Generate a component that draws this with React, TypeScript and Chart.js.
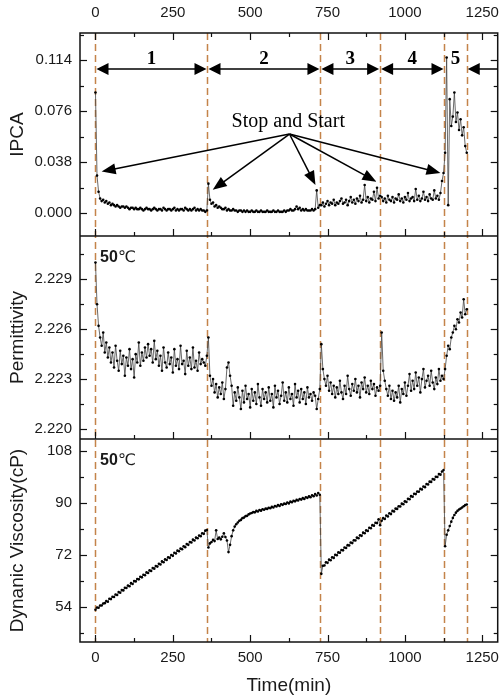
import { useEffect, useRef } from 'react';
import { Chart, registerables } from 'chart.js';

Chart.register(...registerables);

// ---------------- data ----------------
const TIME = [
  0, 5, 10, 15, 20, 25, 30, 35, 40, 45, 50, 55, 60, 65, 70, 75, 80, 85, 90, 95,
  100, 105, 110, 115, 120, 125, 130, 135, 140, 145, 150, 155, 160, 165, 170, 175, 180, 185, 190, 195,
  200, 205, 210, 215, 220, 225, 230, 235, 240, 245, 250, 255, 260, 265, 270, 275, 280, 285, 290, 295,
  300, 305, 310, 315, 320, 325, 330, 335, 340, 345, 350, 355, 360, 365, 370, 375, 380, 385, 390, 395,
  400, 405, 410, 415, 420, 425, 430, 435, 440, 445, 450, 455, 460, 465, 470, 475, 480, 485, 490, 495,
  500, 505, 510, 515, 520, 525, 530, 535, 540, 545, 550, 555, 560, 565, 570, 575, 580, 585, 590, 595,
  600, 605, 610, 615, 620, 625, 630, 635, 640, 645, 650, 655, 660, 665, 670, 675, 680, 685, 690, 695,
  700, 705, 710, 715, 720, 725, 730, 735, 740, 745, 750, 755, 760, 765, 770, 775, 780, 785, 790, 795,
  800, 805, 810, 815, 820, 825, 830, 835, 840, 845, 850, 855, 860, 865, 870, 875, 880, 885, 890, 895,
  900, 905, 910, 915, 920, 925, 930, 935, 940, 945, 950, 955, 960, 965, 970, 975, 980, 985, 990, 995,
  1000, 1005, 1010, 1015, 1020, 1025, 1030, 1035, 1040, 1045, 1050, 1055, 1060, 1065, 1070, 1075, 1080, 1085, 1090, 1095,
  1100, 1105, 1110, 1115, 1120, 1125, 1130, 1135, 1140, 1145, 1150, 1155, 1160, 1165, 1170, 1175, 1180, 1185, 1190, 1195,
  1200,
];

const IPCA = [
  // 0-360
  0.090, 0.028, 0.016, 0.011, 0.009, 0.010, 0.008, 0.009, 0.007, 0.008,
  0.006, 0.007, 0.006, 0.005, 0.006, 0.005, 0.004, 0.005, 0.005, 0.004,
  0.005, 0.004, 0.003, 0.004, 0.004, 0.003, 0.004, 0.003, 0.003, 0.004,
  0.003, 0.002, 0.003, 0.004, 0.003, 0.003, 0.002, 0.003, 0.004, 0.003,
  0.002, 0.003, 0.003, 0.002, 0.004, 0.003, 0.002, 0.003, 0.003, 0.002,
  0.003, 0.004, 0.002, 0.003, 0.002, 0.003, 0.003, 0.002, 0.004, 0.003,
  0.002, 0.003, 0.002, 0.003, 0.004, 0.002, 0.003, 0.002, 0.003, 0.002,
  0.002, 0.001, 0.002,
  // 365-725
  0.022, 0.010, 0.007, 0.008, 0.005, 0.006, 0.004, 0.005, 0.004, 0.003,
  0.003, 0.004, 0.002, 0.003, 0.002, 0.002, 0.003, 0.002, 0.002, 0.001,
  0.002, 0.002, 0.001, 0.002, 0.001, 0.002, 0.001, 0.001, 0.002, 0.001,
  0.001, 0.002, 0.001, 0.001, 0.002, 0.001, 0.001, 0.001, 0.002, 0.001,
  0.001, 0.001, 0.002, 0.001, 0.001, 0.002, 0.001, 0.001, 0.001, 0.002,
  0.001, 0.002, 0.002, 0.003, 0.002, 0.002, 0.003, 0.005, 0.003, 0.004,
  0.002, 0.003, 0.002, 0.003, 0.002, 0.002, 0.002, 0.003, 0.002, 0.003,
  0.017, 0.004, 0.006,
  // 730-920
  0.006, 0.008, 0.005, 0.007, 0.009, 0.006, 0.008, 0.007, 0.010, 0.006,
  0.008, 0.007, 0.009, 0.011, 0.007, 0.008, 0.010, 0.006, 0.009, 0.012,
  0.008, 0.010, 0.007, 0.011, 0.009, 0.013, 0.008, 0.010, 0.021, 0.009,
  0.012, 0.008, 0.011, 0.010, 0.016, 0.009, 0.019, 0.011, 0.013,
  // 925-1125
  0.012, 0.009, 0.011, 0.008, 0.013, 0.010, 0.009, 0.012, 0.008, 0.011,
  0.010, 0.014, 0.009, 0.011, 0.008, 0.012, 0.010, 0.015, 0.009, 0.011,
  0.012, 0.009, 0.018, 0.010, 0.013, 0.009, 0.011, 0.016, 0.010, 0.012,
  0.009, 0.014, 0.011, 0.010, 0.017, 0.011, 0.013, 0.010, 0.015, 0.024,
  0.030,
  // 1130-1200
  0.045, 0.116, 0.006, 0.085, 0.065, 0.072, 0.090, 0.068, 0.075, 0.062,
  0.070, 0.058, 0.064, 0.050, 0.045,
];

const PERMITTIVITY = [
  // 0-360
  2.2300, 2.2275, 2.2262, 2.2255, 2.2250, 2.2258, 2.2246, 2.2252, 2.2243, 2.2249,
  2.2240, 2.2246, 2.2237, 2.2250, 2.2241, 2.2235, 2.2247, 2.2239, 2.2244, 2.2232,
  2.2243, 2.2238, 2.2248, 2.2236, 2.2242, 2.2231, 2.2245, 2.2240, 2.2252, 2.2238,
  2.2246, 2.2241, 2.2249, 2.2243, 2.2251, 2.2244, 2.2248, 2.2240, 2.2253, 2.2242,
  2.2247, 2.2238, 2.2244, 2.2235, 2.2249, 2.2240, 2.2237, 2.2246, 2.2239, 2.2243,
  2.2234, 2.2248, 2.2238, 2.2242, 2.2236, 2.2250, 2.2239, 2.2241, 2.2233, 2.2247,
  2.2238, 2.2243, 2.2236, 2.2249, 2.2237, 2.2241, 2.2235, 2.2246, 2.2239, 2.2242,
  2.2240, 2.2238, 2.2244,
  // 365-725
  2.2255, 2.2232, 2.2226, 2.2230, 2.2222, 2.2227, 2.2219, 2.2225, 2.2221, 2.2228,
  2.2218, 2.2224, 2.2237, 2.2240, 2.2232, 2.2226, 2.2214, 2.2222, 2.2217, 2.2225,
  2.2219, 2.2212, 2.2223, 2.2216, 2.2226, 2.2218, 2.2221, 2.2213, 2.2224, 2.2217,
  2.2222, 2.2215, 2.2227, 2.2219, 2.2214, 2.2224, 2.2218, 2.2222, 2.2216, 2.2225,
  2.2217, 2.2221, 2.2213, 2.2226, 2.2219, 2.2223, 2.2215, 2.2220, 2.2228, 2.2217,
  2.2222, 2.2216, 2.2225, 2.2218, 2.2221, 2.2214, 2.2227, 2.2219, 2.2223, 2.2216,
  2.2224, 2.2218, 2.2222, 2.2215, 2.2225, 2.2219, 2.2221, 2.2217, 2.2222, 2.2220,
  2.2212, 2.2218, 2.2224,
  // 730-920
  2.2251, 2.2236, 2.2230, 2.2226, 2.2232, 2.2223, 2.2228, 2.2221, 2.2226, 2.2219,
  2.2225, 2.2221, 2.2229, 2.2222, 2.2218, 2.2226, 2.2221, 2.2232, 2.2224, 2.2220,
  2.2227, 2.2223, 2.2230, 2.2222, 2.2226, 2.2219, 2.2228, 2.2224, 2.2231, 2.2222,
  2.2226, 2.2221, 2.2229, 2.2224, 2.2227, 2.2220, 2.2225, 2.2223, 2.2226,
  // 925-1125
  2.2258, 2.2235, 2.2229, 2.2224, 2.2220, 2.2226, 2.2218, 2.2223, 2.2217, 2.2222,
  2.2219, 2.2226, 2.2216, 2.2224, 2.2221, 2.2228, 2.2220, 2.2226, 2.2233, 2.2223,
  2.2229, 2.2224, 2.2234, 2.2226, 2.2231, 2.2222, 2.2230, 2.2236, 2.2225, 2.2229,
  2.2232, 2.2226, 2.2235, 2.2228, 2.2224, 2.2231, 2.2227, 2.2236, 2.2229, 2.2232,
  2.2230,
  // 1130-1200
  2.2236, 2.2244, 2.2250, 2.2248, 2.2255, 2.2258, 2.2262, 2.2260, 2.2266, 2.2264,
  2.2270, 2.2267, 2.2278, 2.2269, 2.2272,
];

const VISCOSITY = [
  // 0-360
  53.1, 53.9, 53.8, 54.6, 54.6, 55.3, 55.4, 56.1, 55.9, 56.9,
  56.8, 57.6, 57.5, 58.4, 58.2, 59.2, 59.0, 59.9, 59.8, 60.7,
  60.6, 61.5, 61.2, 62.3, 62.0, 63.0, 62.9, 63.7, 63.6, 64.5,
  64.3, 65.2, 65.0, 66.0, 65.8, 66.7, 66.5, 67.5, 67.3, 68.2,
  68.0, 69.0, 68.7, 69.8, 69.5, 70.5, 70.3, 71.2, 71.0, 72.0,
  71.7, 72.8, 72.5, 73.5, 73.3, 74.2, 74.0, 75.0, 74.7, 75.8,
  75.5, 76.5, 76.3, 77.3, 77.0, 78.0, 77.8, 78.7, 78.5, 79.5,
  79.3, 80.4, 80.6,
  // 365-725
  74.6, 76.0, 76.5, 77.2, 76.8, 80.5, 77.5, 78.0, 77.4, 78.3,
  79.5, 78.2, 77.0, 73.0, 75.5, 78.5, 80.5, 81.8, 82.6, 83.2,
  83.8, 84.1, 84.7, 84.9, 85.4, 85.5, 86.0, 86.3, 86.5, 86.8,
  86.7, 87.2, 87.0, 87.5, 87.3, 87.8, 87.6, 88.0, 87.9, 88.3,
  88.1, 88.6, 88.4, 88.9, 88.7, 89.2, 88.9, 89.5, 89.3, 89.7,
  89.6, 90.1, 89.8, 90.4, 90.2, 90.7, 90.5, 91.0, 90.8, 91.3,
  91.1, 91.6, 91.3, 91.9, 91.7, 92.2, 91.9, 92.6, 92.3, 93.0,
  92.5, 93.4, 92.8,
  // 730-920
  65.5, 68.3, 68.4, 69.5, 69.3, 70.4, 70.2, 71.2, 71.0, 72.1,
  71.9, 72.9, 72.8, 73.7, 73.6, 74.6, 74.4, 75.4, 75.3, 76.3,
  76.1, 77.1, 77.0, 78.0, 77.8, 78.8, 78.6, 79.7, 79.5, 80.5,
  80.3, 81.4, 81.2, 82.3, 82.1, 83.1, 83.0, 84.3, 82.3,
  // 925-1125
  83.8, 84.7, 84.4, 85.6, 85.3, 86.4, 86.1, 87.2, 87.0, 88.0,
  87.9, 88.8, 88.7, 89.7, 89.5, 90.5, 90.3, 91.4, 91.2, 92.3,
  92.1, 93.1, 93.0, 93.9, 93.8, 94.8, 94.6, 95.6, 95.4, 96.5,
  96.3, 97.3, 97.2, 98.2, 98.0, 99.0, 98.9, 99.9, 99.7, 100.8,
  101.3,
  // 1130-1200
  75.0, 79.0, 80.5, 82.0, 83.5, 84.8, 85.8, 86.6, 87.2, 87.7,
  88.0, 88.4, 88.8, 89.2, 89.4,
];

const RESTARTS = [0, 362, 727, 920, 1128, 1200];
const SECTION_LABELS = ['1', '2', '3', '4', '5'];
const X_TICKS = [0, 250, 500, 750, 1000, 1250];
const X_MINOR = [125, 375, 625, 875, 1125];
const IPCA_TICKS = [0, 0.038, 0.076, 0.114];
const IPCA_MINOR = [0.019, 0.057, 0.095, 0.133];
const PERM_TICKS = [2.22, 2.223, 2.226, 2.229];
const PERM_MINOR = [2.2215, 2.2245, 2.2275, 2.2305];
const VISC_TICKS = [54, 72, 90, 108];
const VISC_MINOR = [45, 63, 81, 99];

// callout "Stop and Start": origin and tips in (time, IPCA) units
const CALLOUT_FROM = [627, 0.059];
const CALLOUT_TO = [
  [20, 0.031],
  [379, 0.0175],
  [711, 0.021],
  [908, 0.0235],
  [1115, 0.03],
];

const SANS = '"Liberation Sans", Arial, Helvetica, sans-serif';
const SERIF = '"Liberation Serif", "Times New Roman", serif';
const TEXT = '#1a1a1a';

function pts(ys: number[]) {
  const n = Math.min(TIME.length, ys.length);
  const out: { x: number; y: number }[] = [];
  for (let i = 0; i < n; i++) out.push({ x: TIME[i], y: ys[i] });
  return out;
}

function arrowHead(ctx: CanvasRenderingContext2D, x1: number, y1: number, x2: number, y2: number, len: number, half: number) {
  const a = Math.atan2(y2 - y1, x2 - x1);
  const c = Math.cos(a), s = Math.sin(a);
  ctx.beginPath();
  ctx.moveTo(x2, y2);
  ctx.lineTo(x2 - len * c + half * s, y2 - len * s - half * c);
  ctx.lineTo(x2 - len * c - half * s, y2 - len * s + half * c);
  ctx.closePath();
  ctx.fill();
}

function arrow(ctx: CanvasRenderingContext2D, x1: number, y1: number, x2: number, y2: number, len: number, half: number) {
  const a = Math.atan2(y2 - y1, x2 - x1);
  ctx.beginPath();
  ctx.moveTo(x1, y1);
  ctx.lineTo(x2 - (len - 1) * Math.cos(a), y2 - (len - 1) * Math.sin(a));
  ctx.stroke();
  arrowHead(ctx, x1, y1, x2, y2, len, half);
}

function seg(ctx: CanvasRenderingContext2D, x1: number, y1: number, x2: number, y2: number) {
  ctx.beginPath();
  ctx.moveTo(x1, y1);
  ctx.lineTo(x2, y2);
  ctx.stroke();
}

const decor = {
  id: 'decor',
  beforeDatasetsDraw(chart: any) {
    const { ctx, chartArea: a, scales } = chart;
    const sx = scales.x;
    ctx.save();
    ctx.strokeStyle = '#c4834a';
    ctx.lineWidth = 1.5;
    ctx.setLineDash([7, 4]);
    for (const t of RESTARTS) {
      const px = Math.round(sx.getPixelForValue(t)) + 0.5;
      seg(ctx, px, a.top, px, a.bottom);
    }
    ctx.restore();
  },
  afterDraw(chart: any) {
    const { ctx, chartArea: a, scales } = chart;
    const sx = scales.x;
    const yI = scales.yI, yP = scales.yP, yV = scales.yV;
    ctx.save();
    ctx.setLineDash([]);
    ctx.strokeStyle = '#111';
    ctx.fillStyle = '#111';

    // frame & dividers
    ctx.lineWidth = 1.5;
    ctx.strokeRect(a.left, a.top, a.right - a.left, a.bottom - a.top);
    seg(ctx, a.left, yI.bottom, a.right, yI.bottom);
    seg(ctx, a.left, yP.bottom, a.right, yP.bottom);

    // ticks (inward)
    ctx.lineWidth = 1.2;
    const panels: [any, number[], number[]][] = [
      [yI, IPCA_TICKS, IPCA_MINOR],
      [yP, PERM_TICKS, PERM_MINOR],
      [yV, VISC_TICKS, VISC_MINOR],
    ];
    for (const [s, maj, mnr] of panels) {
      for (const v of maj) {
        const py = Math.round(s.getPixelForValue(v)) + 0.5;
        seg(ctx, a.left, py, a.left + 7, py);
        seg(ctx, a.right - 7, py, a.right, py);
      }
      for (const v of mnr) {
        const py = Math.round(s.getPixelForValue(v)) + 0.5;
        if (py < s.top + 1 || py > s.bottom - 1) continue;
        seg(ctx, a.left, py, a.left + 4, py);
        seg(ctx, a.right - 4, py, a.right, py);
      }
      for (const t of X_TICKS) {
        const px = Math.round(sx.getPixelForValue(t)) + 0.5;
        seg(ctx, px, s.bottom, px, s.bottom - 7);
      }
      for (const t of X_MINOR) {
        const px = Math.round(sx.getPixelForValue(t)) + 0.5;
        seg(ctx, px, s.bottom, px, s.bottom - 4);
      }
    }
    for (const t of X_TICKS) {
      const px = Math.round(sx.getPixelForValue(t)) + 0.5;
      seg(ctx, px, a.top, px, a.top + 7);
    }
    for (const t of X_MINOR) {
      const px = Math.round(sx.getPixelForValue(t)) + 0.5;
      seg(ctx, px, a.top, px, a.top + 4);
    }

    // section arrows and labels
    const ay = a.top + 36;
    ctx.lineWidth = 1.5;
    ctx.fillStyle = '#000';
    ctx.strokeStyle = '#000';
    for (let i = 0; i < 4; i++) {
      const x1 = sx.getPixelForValue(RESTARTS[i]) + 1;
      const x2 = sx.getPixelForValue(RESTARTS[i + 1]) - 1;
      seg(ctx, x1 + 10, ay, x2 - 10, ay);
      arrowHead(ctx, x2, ay, x1, ay, 12, 6);
      arrowHead(ctx, x1, ay, x2, ay, 12, 6);
    }
    {
      const x1 = sx.getPixelForValue(RESTARTS[5]) + 1;
      seg(ctx, x1 + 10, ay, a.right, ay);
      arrowHead(ctx, a.right, ay, x1, ay, 12, 6);
    }
    ctx.font = `bold 19px ${SERIF}`;
    ctx.textAlign = 'center';
    ctx.textBaseline = 'alphabetic';
    for (let i = 0; i < 5; i++) {
      const cx = sx.getPixelForValue((RESTARTS[i] + RESTARTS[i + 1]) / 2);
      ctx.fillText(SECTION_LABELS[i], cx, a.top + 31);
    }

    // Stop and Start callout
    ctx.font = `20px ${SERIF}`;
    ctx.textAlign = 'left';
    ctx.fillText('Stop and Start', sx.getPixelForValue(440), yI.getPixelForValue(0.0643));
    const ox = sx.getPixelForValue(CALLOUT_FROM[0]);
    const oy = yI.getPixelForValue(CALLOUT_FROM[1]);
    ctx.lineWidth = 1.5;
    for (const [t, v] of CALLOUT_TO) {
      arrow(ctx, ox, oy, sx.getPixelForValue(t), yI.getPixelForValue(v), 14, 5.5);
    }

    // 50℃ labels
    for (const s of [yP, yV]) {
      const tx = a.left + 20;
      const ty = s.top + 22;
      ctx.textBaseline = 'middle';
      ctx.font = `bold 16px ${SANS}`;
      ctx.fillStyle = TEXT;
      ctx.fillText('50', tx, ty);
      const w = ctx.measureText('50').width;
      ctx.font = `16px "DejaVu Sans", ${SANS}`;
      ctx.fillText('℃', tx + w, ty);
    }

    // axis titles
    ctx.fillStyle = TEXT;
    ctx.font = `19px ${SANS}`;
    ctx.textAlign = 'center';
    ctx.textBaseline = 'middle';
    const titles: [any, string][] = [
      [yI, 'IPCA'],
      [yP, 'Permittivity'],
      [yV, 'Dynanic Viscosity(cP)'],
    ];
    for (const [s, label] of titles) {
      ctx.save();
      ctx.translate(18, (s.top + s.bottom) / 2);
      ctx.rotate(-Math.PI / 2);
      ctx.fillText(label, 0, 0);
      ctx.restore();
    }
    ctx.fillText('Time(min)', (a.left + a.right) / 2, 686);
    ctx.restore();
  },
};

function setTicks(values: number[]) {
  return (s: any) => {
    s.ticks = values.map((v) => ({ value: v }));
  };
}

const tickFont = { family: SANS, size: 15 };

export default function App() {
  const ref = useRef<HTMLCanvasElement | null>(null);
  useEffect(() => {
    if (!ref.current) return;
    const common = {
      showLine: true,
      borderColor: '#444',
      borderWidth: 0.8,
      pointRadius: 1.3,
      pointBackgroundColor: '#000',
      pointBorderWidth: 0,
      pointHoverRadius: 0,
      tension: 0,
      fill: false,
    };
    const yBase = (min: number, max: number, ticks: number[], weight: number, fmt: (v: number) => string) => ({
      type: 'linear',
      position: 'left',
      stack: 'panels',
      stackWeight: 1,
      weight,
      min,
      max,
      grid: { display: false, drawTicks: false },
      border: { display: false },
      afterBuildTicks: setTicks(ticks),
      afterFit: (s: any) => {
        s.width = 80;
        s.paddingTop = 0;
        s.paddingBottom = 0;
      },
      ticks: { autoSkip: false, padding: 8, color: TEXT, font: tickFont, callback: (v: any) => fmt(Number(v)) },
    });
    const xBase = (position: string, h: number, pad: number) => ({
      type: 'linear',
      position,
      min: -50,
      max: 1300,
      grid: { display: false, drawTicks: false },
      border: { display: false },
      afterBuildTicks: setTicks(X_TICKS),
      afterFit: (s: any) => {
        s.height = h;
        s.paddingLeft = 0;
        s.paddingRight = 0;
      },
      ticks: { autoSkip: false, padding: pad, color: TEXT, font: tickFont, maxRotation: 0, callback: (v: any) => String(v) },
    });
    const chart = new Chart(ref.current, {
      type: 'line',
      data: {
        datasets: [
          { ...common, label: 'IPCA', data: pts(IPCA), xAxisID: 'x', yAxisID: 'yI' },
          { ...common, label: 'Permittivity', data: pts(PERMITTIVITY), xAxisID: 'x', yAxisID: 'yP' },
          { ...common, label: 'Viscosity', data: pts(VISCOSITY), xAxisID: 'x', yAxisID: 'yV' },
        ],
      } as any,
      options: {
        animation: false,
        responsive: false,
        devicePixelRatio: 1,
        layout: { padding: { left: 0, right: 1, top: 0, bottom: 0 } },
        plugins: { legend: { display: false }, tooltip: { enabled: false } },
        events: [],
        scales: {
          x: xBase('bottom', 56, 7),
          x2: xBase('top', 33, 11),
          yV: yBase(42, 112, VISC_TICKS, 1, (v) => String(Math.round(v))),
          yP: yBase(2.2194, 2.2316, PERM_TICKS, 2, (v) => v.toFixed(3)),
          yI: yBase(-0.017, 0.1343, IPCA_TICKS, 3, (v) => v.toFixed(3)),
        },
      } as any,
      plugins: [decor],
    });
    return () => chart.destroy();
  }, []);
  return (
    <div style={{ position: 'fixed', left: 0, top: 0, width: 499, height: 698, background: '#fff' }}>
      <canvas ref={ref} width={499} height={698} style={{ display: 'block', width: 499, height: 698 }} />
    </div>
  );
}
